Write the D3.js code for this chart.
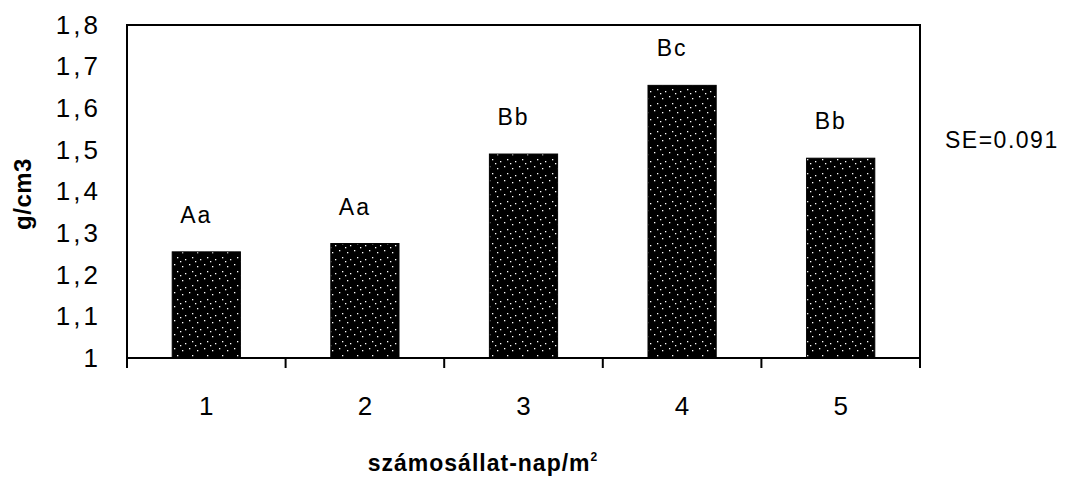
<!DOCTYPE html>
<html>
<head>
<meta charset="utf-8">
<script src="https://cdn.jsdelivr.net/npm/d3@7"></script>
<style>
  body { margin: 0; background: #fff; }
  svg text { font-family: "Liberation Sans", Arial, sans-serif; fill: #000; }
</style>
</head>
<body>
<svg class="chart"></svg>
<script>
// values
const categories = ["1", "2", "3", "4", "5"]
const values = [1.255, 1.275, 1.49, 1.655, 1.48]
const letters = ["Aa", "Aa", "Bb", "Bc", "Bb"]
const yTicks = [1, 1.1, 1.2, 1.3, 1.4, 1.5, 1.6, 1.7, 1.8]
const seText = "SE=0.091"

const W = 1069, H = 487
const margin = { top: 25, left: 127, right: 149, bottom: 129 }
const width = W - margin.left - margin.right,
      height = H - margin.top - margin.bottom

const svg = d3.select(".chart")
    .attr("width", W)
    .attr("height", H)

// speckled scan texture
const defs = svg.append("defs")
const pat = defs.append("pattern")
    .attr("id", "speck")
    .attr("patternUnits", "userSpaceOnUse")
    .attr("width", 15).attr("height", 14)
pat.append("rect").attr("width", 15).attr("height", 14).attr("fill", "#000")
const dots = [[2, 1], [10, 3], [5, 8], [13, 10], [8, 12]]
pat.selectAll("rect.d").data(dots).enter().append("rect")
    .attr("class", "d")
    .attr("x", d => d[0]).attr("y", d => d[1])
    .attr("width", 1.3).attr("height", 1.3)
    .attr("fill", "#fff")

const g = svg.append("g")
    .attr("transform", "translate(" + margin.left + "," + margin.top + ")")

const x = d3.scaleBand()
    .domain(categories)
    .range([0, width])
    .paddingInner(0.57)
    .paddingOuter(0.285)

const y = d3.scaleLinear()
    .domain([1, 1.8])
    .range([height, 0])

// bars
g.selectAll(".bar")
  .data(values)
  .enter()
  .append("rect")
    .attr("class", "bar")
    .attr("x", (d, i) => x(categories[i]))
    .attr("y", d => y(d))
    .attr("width", x.bandwidth())
    .attr("height", d => y(1) - y(d))
    .attr("fill", "url(#speck)")
    .attr("stroke", "#000")
    .attr("stroke-width", 1)

// letter labels
g.selectAll(".lbl")
  .data(values)
  .enter()
  .append("text")
    .attr("class", "lbl")
    .attr("x", (d, i) => x(categories[i]) + x.bandwidth() / 2 - 10)
    .attr("y", d => y(d) - 37)
    .attr("dy", "0.35em")
    .attr("text-anchor", "middle")
    .style("font-size", "23px")
    .style("letter-spacing", "2px")
    .text((d, i) => letters[i])

// frame
g.append("rect")
    .attr("width", width)
    .attr("height", height)
    .attr("fill", "none")
    .attr("stroke", "#000")
    .attr("stroke-width", 2)

// y axis
const yAxis = g.append("g")
    .call(d3.axisLeft(y)
      .tickValues(yTicks)
      .tickSize(0)
      .tickPadding(26)
      .tickFormat(d => d3.format(".1~f")(d).replace(".", ",")))
yAxis.select(".domain").remove()
yAxis.selectAll("text")
    .style("font-size", "26px")
    .style("letter-spacing", "3px")

// x axis labels
const xAxis = g.append("g")
    .attr("transform", "translate(0," + height + ")")
    .call(d3.axisBottom(x).tickSize(0).tickPadding(39))
xAxis.select(".domain").remove()
xAxis.selectAll("text")
    .style("font-size", "26px")

// boundary ticks between categories
g.selectAll(".btick")
  .data(d3.range(categories.length + 1))
  .enter()
  .append("line")
    .attr("class", "btick")
    .attr("x1", i => i * x.step())
    .attr("x2", i => i * x.step())
    .attr("y1", height)
    .attr("y2", height + 10)
    .attr("stroke", "#000")
    .attr("stroke-width", 2)

// axis titles
const xt = svg.append("text")
    .attr("x", 483)
    .attr("y", 471)
    .attr("text-anchor", "middle")
    .style("font-size", "23px")
    .style("font-weight", "bold")
    .style("letter-spacing", "1px")
xt.append("tspan").text("számosállat-nap/m")
xt.append("tspan").attr("dy", "-10").style("font-size", "12px").text("2")

svg.append("text")
    .attr("transform", "translate(31,194) rotate(-90)")
    .attr("text-anchor", "middle")
    .style("font-size", "24px")
    .style("font-weight", "bold")
    .style("letter-spacing", "0.5px")
    .text("g/cm3")

svg.append("text")
    .attr("x", 945)
    .attr("y", 140)
    .attr("dy", "0.35em")
    .style("font-size", "23px")
    .style("letter-spacing", "1.5px")
    .text(seText)
</script>
</body>
</html>
